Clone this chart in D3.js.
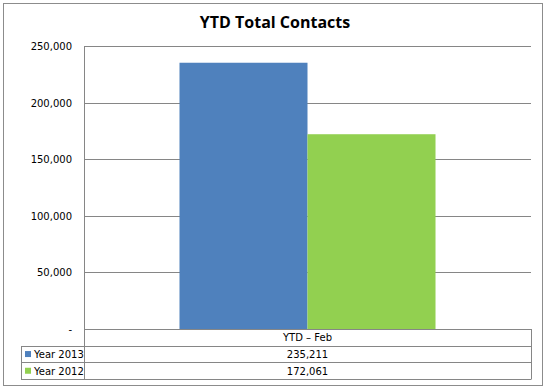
<!DOCTYPE html>
<html>
<head>
<meta charset="utf-8">
<script src="https://cdn.jsdelivr.net/npm/d3@7"></script>
<style>
  html, body { margin: 0; padding: 0; background: #fff; }
  svg text { font-family: "DejaVu Sans", sans-serif; fill: #000; }
</style>
</head>
<body>
<div id="chart"></div>
<script>
// --- Data ---
const categories = ["YTD – Feb"];
const seriesNames = ["Year 2013", "Year 2012"];
const seriesValues = [[235211], [172061]];
const seriesColors = ["#4f81bd", "#92d050"];
const yTicks = [0, 50000, 100000, 150000, 200000, 250000];

const W = 548, H = 390;
const plot = { left: 84, right: 531, top: 46, bottom: 329 };
const rowH = 16.7;
const tableLeft = 21;

const svg = d3.select("#chart").append("svg").attr("width", W).attr("height", H);

// outer frame
svg.append("rect").attr("x", 3.5).attr("y", 3.5).attr("width", 539).attr("height", 382)
    .attr("fill", "#fff").attr("stroke", "#8c8c8c").attr("stroke-width", 1);

svg.append("text").attr("x", 275).attr("y", 28).attr("text-anchor", "middle")
    .style("font-size", "16px").style("font-weight", "bold")
    .style("font-family", "'Open Sans', 'DejaVu Sans', sans-serif")
    .text("YTD Total Contacts");

const y = d3.scaleLinear().domain([0, 250000]).range([plot.bottom, plot.top]);
const x0 = d3.scaleBand().domain(categories).range([plot.left, plot.right]).paddingInner(0).paddingOuter(0.373);
const x1 = d3.scaleBand().domain(seriesNames).range([0, x0.bandwidth()]);

// gridlines
svg.append("g").selectAll("line").data(yTicks).join("line")
    .attr("x1", plot.left).attr("x2", plot.right)
    .attr("y1", d => Math.round(y(d)) + 0.5).attr("y2", d => Math.round(y(d)) + 0.5)
    .attr("stroke", "#868686");

// y axis labels
const fmt = d3.format(",");
svg.append("g").selectAll("text").data(yTicks).join("text")
    .attr("x", 72).attr("y", d => y(d) + 4).attr("text-anchor", "end")
    .style("font-size", "10px")
    .text(d => d === 0 ? "-" : fmt(d));

// bars
const barG = svg.append("g");
seriesNames.forEach((s, i) => {
    barG.selectAll(null).data(seriesValues[i]).join("rect")
        .attr("x", (d, j) => x0(categories[j]) + x1(s))
        .attr("width", x1.bandwidth())
        .attr("y", d => y(d))
        .attr("height", d => plot.bottom - y(d))
        .attr("fill", seriesColors[i]);
});

// y axis line
svg.append("line").attr("x1", plot.left + 0.5).attr("x2", plot.left + 0.5)
    .attr("y1", plot.top).attr("y2", plot.bottom + rowH * 3).attr("stroke", "#868686");

// --- data table ---
const tb = svg.append("g");
const tableLines = [
    [plot.left, plot.right, plot.bottom],
    [tableLeft, plot.right, plot.bottom + rowH],
    [tableLeft, plot.right, plot.bottom + rowH * 2],
    [tableLeft, plot.right, plot.bottom + rowH * 3]
];
tb.selectAll("line.h").data(tableLines).join("line").attr("class", "h")
    .attr("x1", d => d[0]).attr("x2", d => d[1])
    .attr("y1", d => Math.round(d[2]) + 0.5).attr("y2", d => Math.round(d[2]) + 0.5)
    .attr("stroke", "#868686");
tb.append("line").attr("x1", tableLeft + 0.5).attr("x2", tableLeft + 0.5)
    .attr("y1", Math.round(plot.bottom + rowH) + 0.5).attr("y2", Math.round(plot.bottom + rowH * 3) + 0.5)
    .attr("stroke", "#868686");
tb.append("line").attr("x1", plot.right + 0.5).attr("x2", plot.right + 0.5)
    .attr("y1", plot.bottom).attr("y2", Math.round(plot.bottom + rowH * 3) + 0.5)
    .attr("stroke", "#868686");

// header row
tb.selectAll("text.cat").data(categories).join("text").attr("class", "cat")
    .attr("x", d => x0(d) + x0.bandwidth() / 2).attr("y", plot.bottom + rowH / 2 + 4)
    .attr("text-anchor", "middle").style("font-size", "10px").text(d => d);

seriesNames.forEach((s, i) => {
    const rowY = plot.bottom + rowH * (i + 1);
    tb.append("rect").attr("x", 25).attr("y", rowY + rowH / 2 - 3).attr("width", 6).attr("height", 6)
        .attr("fill", seriesColors[i]);
    tb.append("text").attr("x", 34).attr("y", rowY + rowH / 2 + 4)
        .style("font-size", "10px").text(s);
    tb.selectAll(null).data(seriesValues[i]).join("text")
        .attr("x", (d, j) => x0(categories[j]) + x0.bandwidth() / 2).attr("y", rowY + rowH / 2 + 4)
        .attr("text-anchor", "middle").style("font-size", "10px").text(d => fmt(d));
});
</script>
</body>
</html>
